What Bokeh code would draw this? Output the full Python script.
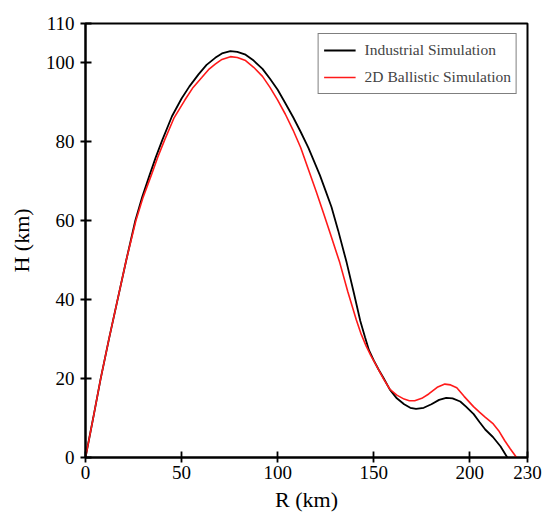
from bokeh.plotting import figure
from bokeh.models import Range1d, FixedTicker, Legend, LegendItem
from bokeh.embed import file_html
from bokeh.resources import INLINE

# Industrial Simulation (black)
ind_R = [0, 4, 7.9, 12.2, 16.7, 21.2, 25.9, 29.5, 33.3, 36.5, 40, 45, 50, 54, 58.8, 63,
         67.5, 71, 75.4, 79, 83.3, 87.5, 92.1, 96, 100, 104, 108, 112, 116, 119, 122, 125,
         128, 131.5, 135.9, 139.5, 143, 145.5, 147.5, 150, 152.5, 155, 158.4, 162, 165.8,
         169, 172, 176, 180, 184, 187.7, 191, 195, 198, 202, 205, 208, 212, 216, 219.5]
ind_H = [0, 10, 20, 30, 40, 50, 60, 66, 71.5, 76, 80.5, 86.5, 91, 94, 97.1, 99.5,
         101.3, 102.4, 103, 102.8, 102.1, 100.6, 98.5, 96, 93.2, 89.8, 86.3, 82.5, 78.5, 75,
         71.5, 67.5, 63.5, 57.5, 49.4, 42, 34.6, 30.4, 27.2, 24.6, 22.3, 20.2, 17.2, 15,
         13.5, 12.6, 12.3, 12.6, 13.5, 14.6, 15.1, 15, 14.2, 12.9, 11, 9, 7.1, 5.2, 2.8, 0]

# 2D Ballistic Simulation (red)
bal_R = [0, 4, 7.9, 12.2, 16.7, 21.2, 26.2, 30, 34.2, 37.5, 41.2, 46, 51.7, 56, 60.5, 64,
         67.5, 71, 75.4, 79, 83.3, 87.5, 92.1, 96, 100, 104, 108, 112, 116, 120, 124, 128,
         132.3, 136.5, 140.9, 143.5, 146, 148.5, 151, 155, 158.4, 162, 165.8, 168.5, 171.3,
         175, 178.6, 183, 187, 190, 193.2, 197, 201.9, 205, 207.8, 212.2, 215, 218.1, 221,
         224.3]
bal_H = [0, 10, 20, 30, 40, 50, 60, 66, 71.5, 76, 80.5, 86, 90.6, 93.8, 96.3, 98.3,
         99.7, 100.9, 101.6, 101.4, 100.6, 98.9, 96.6, 93.8, 90.6, 87, 83, 78.5, 73, 67.5,
         61.7, 55.8, 49.4, 42, 34.9, 31.2, 28.3, 25.8, 23.6, 20, 17.3, 15.8, 14.8, 14.4,
         14.4, 15, 16.1, 17.8, 18.6, 18.4, 17.7, 15.5, 12.9, 11.5, 10.3, 8.5, 6.8, 4.3,
         2.2, 0]

x_ticks = [0, 50, 100, 150, 200, 230]
y_ticks = [0, 20, 40, 60, 80, 100, 110]
series_names = ["Industrial Simulation", "2D Ballistic Simulation"]
x_title = "R (km)"
y_title = "H (km)"

FONT = "Liberation Serif"

p = figure(width=545, height=520, output_backend="svg", toolbar_location=None,
           x_range=Range1d(0, 230), y_range=Range1d(0, 110),
           min_border_left=85, min_border_right=18, min_border_top=23, min_border_bottom=63)
p.background_fill_color = "white"
p.border_fill_color = "white"
p.outline_line_color = "black"
p.outline_line_width = 2
p.xgrid.visible = False
p.ygrid.visible = False

for ax, ticks in ((p.xaxis, x_ticks), (p.yaxis, y_ticks)):
    ax.ticker = FixedTicker(ticks=ticks)
    ax.minor_tick_line_color = None
    ax.major_tick_in = 6
    ax.major_tick_out = 5
    ax.major_tick_line_width = 1.8
    ax.major_tick_line_color = "black"
    ax.axis_line_width = 2
    ax.axis_line_color = "black"
    ax.major_label_text_font = FONT
    ax.major_label_text_font_size = "19px"
    ax.major_label_text_color = "black"
    ax.axis_label_text_font = FONT
    ax.axis_label_text_font_size = "22px"
    ax.axis_label_text_font_style = "normal"
    ax.axis_label_text_color = "black"
p.xaxis.major_label_standoff = 3
p.yaxis.major_label_standoff = 6
p.xaxis.axis_label = x_title
p.yaxis.axis_label = y_title
p.xaxis.axis_label_standoff = 5
p.yaxis.axis_label_standoff = 9

r1 = p.line(ind_R, ind_H, line_color="black", line_width=1.8)
r2 = p.line(bal_R, bal_H, line_color="#ff1a1a", line_width=1.6)

legend = Legend(items=[LegendItem(label=series_names[0], renderers=[r1]),
                       LegendItem(label=series_names[1], renderers=[r2])],
                location="top_right", margin=10, padding=5, spacing=5,
                glyph_width=32, glyph_height=22, label_height=22, label_standoff=9,
                label_text_font=FONT, label_text_font_size="15.5px",
                border_line_color="black", border_line_width=1.5,
                background_fill_alpha=1.0)
p.add_layout(legend)

open("out.html", "w").write(file_html(p, INLINE))
